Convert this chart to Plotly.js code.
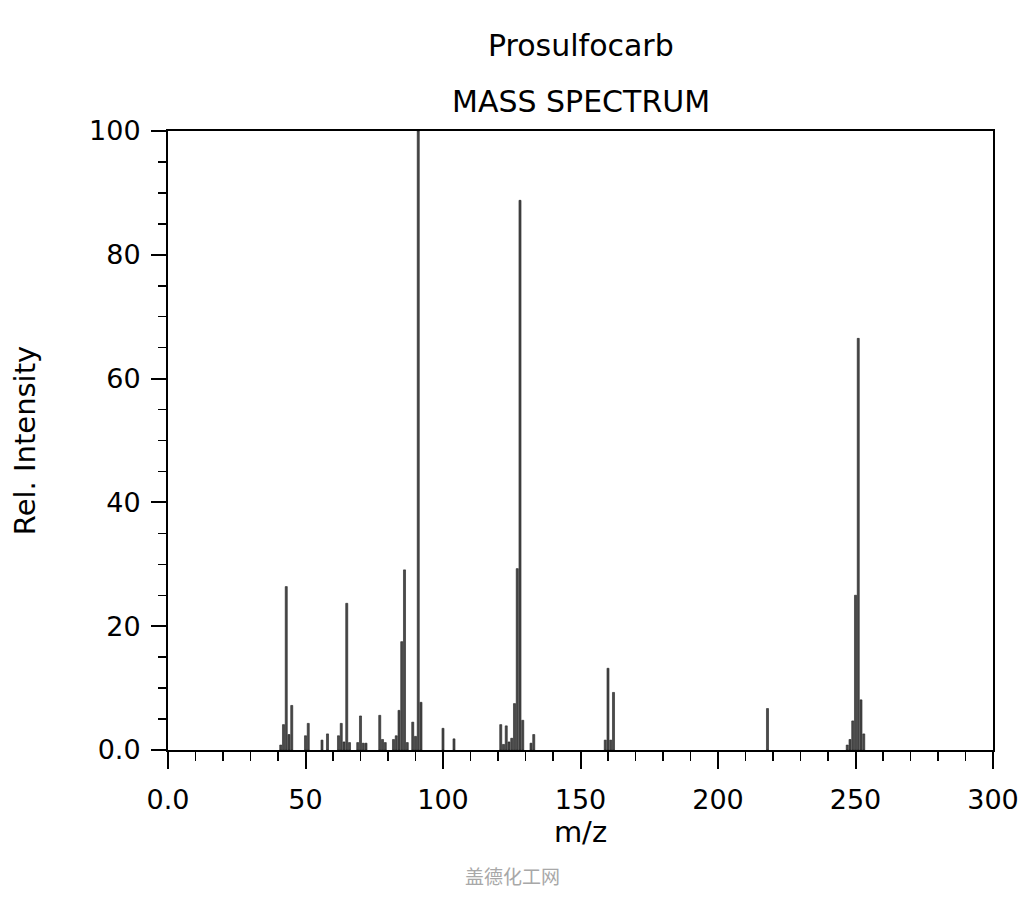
<!DOCTYPE html>
<html>
<head>
<meta charset="utf-8">
<script src="https://cdn.plot.ly/plotly-3.0.1.min.js"></script>
<style>html,body{margin:0;padding:0;background:#fff;}#chart{width:1024px;height:900px;}</style>
</head>
<body>
<div id="chart"></div>
<script>
const mz = [41,42,43,44,45,50,51,56,58,62,63,64,65,66,69,70,71,72,77,78,79,82,83,84,85,86,87,89,90,91,92,100,104,121,122,123,124,125,126,127,128,129,132,133,159,160,161,162,218,247,248,249,250,251,252,253];
const intensity = [0.8,4.1,26.4,2.5,7.2,2.3,4.3,1.6,2.6,2.3,4.3,1.3,23.7,1.2,1.2,5.5,1.1,1.1,5.6,1.7,1.2,1.7,2.3,6.4,17.5,29.1,1.2,4.5,2.2,100,7.7,3.5,1.8,4.1,0.9,3.9,1.3,1.9,7.5,29.3,88.8,4.8,1.1,2.5,1.6,13.2,1.6,9.3,6.7,0.8,1.7,4.7,25,66.5,8.1,2.6];
const xTickVals = [0,50,100,150,200,250,300];
const xTickText = ["0.0","50","100","150","200","250","300"];
const yTickVals = [0,20,40,60,80,100];
const yTickText = ["0.0","20","40","60","80","100"];
const compoundName = "Prosulfocarb";
const chartTitle = "MASS SPECTRUM";
const watermark = "盖德化工网";

const font = "DejaVu Sans, sans-serif";

const trace = {
  type: "bar",
  x: mz,
  y: intensity,
  width: 0.75,
  marker: {color: "#4a4a4a", line: {color: "#222", width: 0.6}},
  hoverinfo: "x+y"
};

const layout = {
  width: 1024, height: 900,
  margin: {l: 168, r: 31, t: 131, b: 150},
  paper_bgcolor: "#fff", plot_bgcolor: "#fff",
  showlegend: false,
  font: {family: font, color: "#000"},
  xaxis: {
    range: [0, 300], tickvals: xTickVals, ticktext: xTickText,
    ticks: "outside", ticklen: 17, tickwidth: 2, tickcolor: "#000",
    minor: {dtick: 10, tick0: 0, ticks: "outside", ticklen: 9, tickwidth: 1.5, tickcolor: "#000"},
    showline: true, linecolor: "#000", linewidth: 2, mirror: true,
    showgrid: false, zeroline: false,
    ticklabelstandoff: 8,
    tickfont: {family: font, size: 27, color: "#000"},
    title: {text: "m/z", font: {family: font, size: 29, color: "#000"}, standoff: 0},
    automargin: false
  },
  yaxis: {
    range: [0, 100], tickvals: yTickVals, ticktext: yTickText,
    ticks: "outside", ticklen: 15, tickwidth: 2, tickcolor: "#000",
    minor: {dtick: 5, tick0: 0, ticks: "outside", ticklen: 8, tickwidth: 1.5, tickcolor: "#000"},
    showline: true, linecolor: "#000", linewidth: 2, mirror: true,
    showgrid: false, zeroline: false,
    ticklabelstandoff: 5,
    tickfont: {family: font, size: 27, color: "#000"},
    title: {text: "Rel. Intensity", font: {family: font, size: 29, color: "#000"}, standoff: 45},
    automargin: false
  },
  annotations: [
    {text: compoundName, xref: "paper", yref: "paper", x: 0.5, y: (750-45)/619, xanchor: "center", yanchor: "middle", showarrow: false, font: {family: font, size: 30, color: "#000"}},
    {text: chartTitle, xref: "paper", yref: "paper", x: 0.5, y: (750-101)/619, xanchor: "center", yanchor: "middle", showarrow: false, font: {family: font, size: 30, color: "#000"}},
    {text: watermark, xref: "paper", yref: "paper", x: (512-168)/825, y: (750-875)/619, xanchor: "center", yanchor: "middle", showarrow: false, font: {family: "Noto Sans CJK SC, sans-serif", size: 19, color: "#a8a8a8"}}
  ]
};

Plotly.newPlot("chart", [trace], layout, {displayModeBar: false, staticPlot: true});
</script>
</body>
</html>
